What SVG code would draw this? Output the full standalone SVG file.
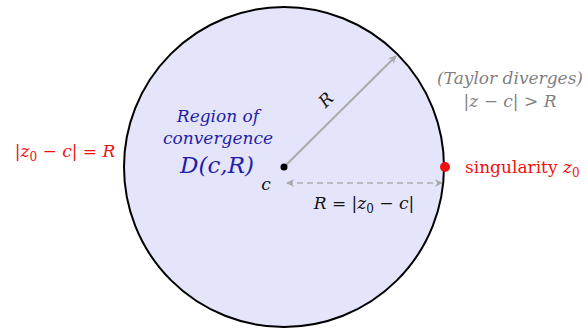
<svg xmlns="http://www.w3.org/2000/svg" width="588" height="331" viewBox="0 0 588 331">
<style>
text{font-family:"DejaVu Serif","Liberation Serif",serif;}
.it{font-style:italic;}
.blue{fill:#1f1fa8;}
.red{fill:#f01010;}
.gray{fill:#7f7f7f;}
.blk{fill:#111;}
</style>
<defs>
<marker id="ah" viewBox="0 0 10 10" refX="9" refY="5" markerWidth="8" markerHeight="8" orient="auto-start-reverse" markerUnits="userSpaceOnUse">
<path d="M0,0 L10,5 L0,10 L3,5 Z" fill="#aaaaaa"/>
</marker>
</defs>
<g id="disk">
<circle cx="284" cy="167" r="160" fill="#e4e4fa" stroke="#000" stroke-width="2"/>
</g>
<g id="connectors">
<line x1="284" y1="167" x2="396" y2="56" stroke="#aaaaaa" stroke-width="2" marker-end="url(#ah)"/>
<line x1="287" y1="183" x2="442" y2="183" stroke="#aaaaaa" stroke-width="1.5" stroke-dasharray="6,4" marker-start="url(#ah)" marker-end="url(#ah)"/>
</g>
<g id="center">
<circle cx="284" cy="167" r="3.5" fill="#000"/>
<text x="266" y="190" font-size="17" class="it blk" text-anchor="middle">c</text>
</g>
<g id="singularity">
<circle cx="445" cy="167" r="5" fill="#f01010"/>
<text x="465" y="173" font-size="17" class="red">singularity <tspan class="it">z</tspan><tspan font-size="12" dy="4">0</tspan></text>
</g>
<g id="region-label">
<text x="218" y="122" font-size="17" class="it blue" text-anchor="middle">Region of</text>
<text x="218" y="144" font-size="17" class="it blue" text-anchor="middle">convergence</text>
<text x="217" y="173" font-size="23" class="it blue" text-anchor="middle">D(c,R)</text>
</g>
<g id="radius-label">
<text x="0" y="0" font-size="17" class="it blk" text-anchor="middle" transform="translate(330,104) rotate(-45)">R</text>
</g>
<g id="boundary-label">
<text x="65" y="157" font-size="17" class="red" text-anchor="middle">|<tspan class="it">z</tspan><tspan font-size="12" dy="4">0</tspan><tspan dy="-4"> − </tspan><tspan class="it">c</tspan>| = <tspan class="it">R</tspan></text>
</g>
<g id="diverge-label">
<text x="510" y="84" font-size="17" class="it gray" text-anchor="middle">(Taylor diverges)</text>
<text x="510" y="107" font-size="17" class="gray" text-anchor="middle">|<tspan class="it">z</tspan> − <tspan class="it">c</tspan>| &gt; <tspan class="it">R</tspan></text>
</g>
<g id="distance-label">
<text x="364" y="209" font-size="17" class="blk" text-anchor="middle"><tspan class="it">R</tspan> = |<tspan class="it">z</tspan><tspan font-size="12" dy="4">0</tspan><tspan dy="-4"> − </tspan><tspan class="it">c</tspan>|</text>
</g>
</svg>
